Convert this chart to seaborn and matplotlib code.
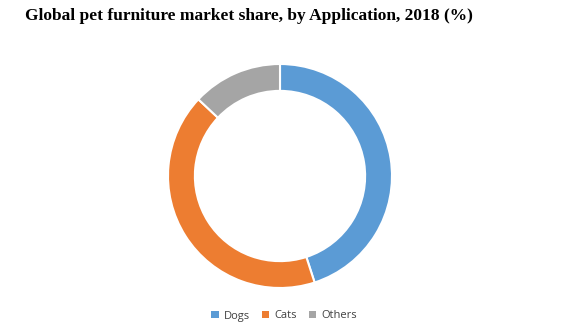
import matplotlib
matplotlib.use("Agg")
import matplotlib.pyplot as plt
import seaborn as sns
from matplotlib.patches import Patch

categories = ["Dogs", "Cats", "Others"]
shares = [45, 42, 13]
colors = ["#5B9BD5", "#ED7D31", "#A5A5A5"]
title = "Global pet furniture market share, by Application, 2018 (%)"

sns.set_theme(style="white")
plt.rcParams['font.family'] = ['DejaVu Sans']

W, H = 579, 328
fig = plt.figure(figsize=(W / 100, H / 100), dpi=100)
cx, cy, r = 280, 176, 112
ax = fig.add_axes([(cx - r) / W, (H - cy - r) / H, 2 * r / W, 2 * r / H])
ax.pie(shares, colors=colors, startangle=90, counterclock=False, radius=1,
       wedgeprops=dict(width=0.24, edgecolor="white", linewidth=1.5))
ax.set_xlim(-1, 1)
ax.set_ylim(-1, 1)
ax.set_aspect("equal")
ax.axis("off")

fig.text(249 / W, 1 - 16 / H, title, ha="center", va="center", color="black",
         fontsize=12.5, fontweight="bold", family=["Liberation Serif"])

handles = [Patch(facecolor=c, edgecolor="none") for c in colors]
leg = fig.legend(handles, categories, loc="center", bbox_to_anchor=(284 / W, 1 - 316 / H),
                 ncol=3, frameon=False, handlelength=0.65, handleheight=0.65,
                 handletextpad=0.45, columnspacing=1.1,
                 prop={"family": "Open Sans", "size": 8})
for t in leg.get_texts():
    t.set_color("#404040")

fig.savefig("out.png", dpi=100)
